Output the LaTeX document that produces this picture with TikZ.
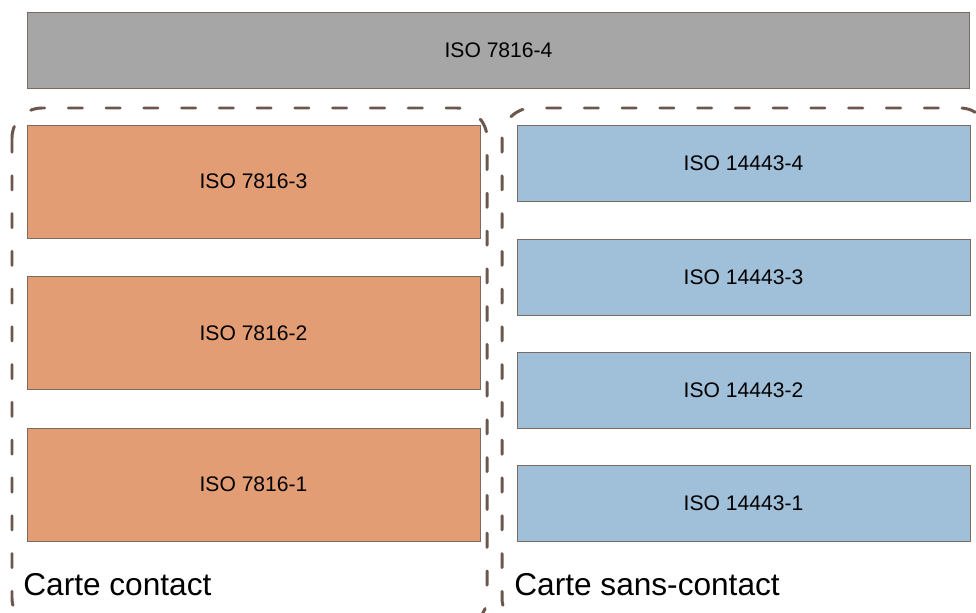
\documentclass[tikz,border=0pt]{standalone}
\usepackage{fontspec}
\setmainfont{Liberation Sans}
\usepackage{tikz}
\usetikzlibrary{positioning}
\definecolor{bordbrun}{HTML}{7A6A62}
\definecolor{tiretbrun}{HTML}{6B574D}
\definecolor{grisfond}{HTML}{A6A6A6}
\definecolor{orangefond}{HTML}{E39D74}
\definecolor{bleufond}{HTML}{A0BFD9}
\tikzset{
couche/.style={draw=bordbrun, line width=0.5pt, minimum width=9.06cm, inner sep=0pt, font=\fontsize{12}{14}\selectfont},
haut/.style={couche, fill=grisfond, minimum width=18.86cm, minimum height=1.52cm},
contact/.style={couche, fill=orangefond, minimum height=2.26cm},
sanscontact/.style={couche, fill=bleufond, minimum height=1.52cm},
groupe/.style={draw=tiretbrun, line width=1.7pt, line cap=round, dash pattern=on 8pt off 13.5pt, rounded corners=0.6cm},
titre/.style={anchor=west, inner sep=0pt, font=\fontsize{18}{21}\selectfont}
}
\begin{document}
\begin{tikzpicture}[x=0.02cm, y=-0.02cm]
\useasboundingbox (0,0) rectangle (976,612);
\clip (0,0) rectangle (976,612);

% groupes en tirets
\draw[groupe] (12,108) rectangle (487,628);
\draw[groupe] (502,108) rectangle (990,628);

\node[haut] (iso4) at (498.5,50) {ISO 7816-4};

\node[contact] (c3) at (253.5,181.5) {ISO 7816-3};
\node[contact] (c2) at (253.5,333) {ISO 7816-2};
\node[contact] (c1) at (253.5,484.5) {ISO 7816-1};

\node[sanscontact] (s4) at (743.5,163) {ISO 14443-4};
\node[sanscontact] (s3) at (743.5,277) {ISO 14443-3};
\node[sanscontact] (s2) at (743.5,390) {ISO 14443-2};
\node[sanscontact] (s1) at (743.5,503) {ISO 14443-1};

\node[titre] (tc) at (23,585) {Carte contact};
\node[titre] (ts) at (514,585) {Carte sans-contact};
\end{tikzpicture}
\end{document}
